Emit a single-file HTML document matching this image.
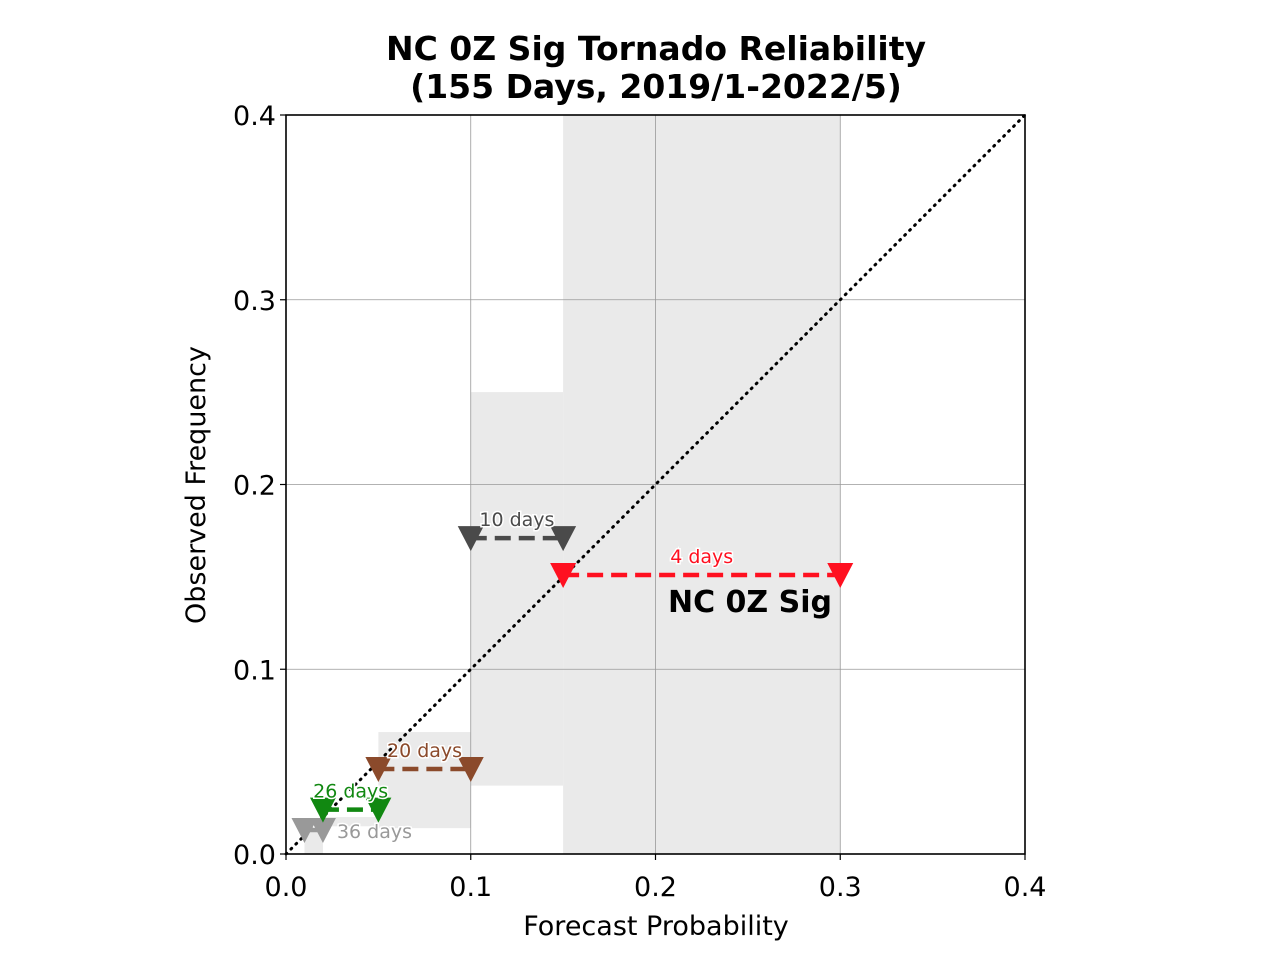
<!DOCTYPE html>
<html><head><meta charset="utf-8"><style>
body{margin:0;background:#fff;}
svg text{font-family:"DejaVu Sans","Liberation Sans",sans-serif;}
</style></head><body>
<svg width="1280" height="960" xmlns="http://www.w3.org/2000/svg">
<text x="656" y="60" font-size="33" font-weight="bold" text-anchor="middle">NC 0Z Sig Tornado Reliability</text>
<text x="656" y="98" font-size="33" font-weight="bold" text-anchor="middle">(155 Days, 2019/1-2022/5)</text>
<g id="plot"></g>
<text x="656" y="935" font-size="27" text-anchor="middle">Forecast Probability</text>
<text transform="translate(205,485) rotate(-90)" font-size="27" text-anchor="middle">Observed Frequency</text>
</svg>
<script>
const binLo=[0.01,0.02,0.05,0.10,0.15];
const binHi=[0.02,0.05,0.10,0.15,0.30];
const obsFreq=[0.013,0.024,0.046,0.171,0.151];
const ciLo=[0.0,0.015,0.014,0.037,0.0];
const ciHi=[0.013,0.020,0.066,0.25,0.4];
const dayCounts=["36 days","26 days","20 days","10 days","4 days"];
const colors=["#999999","#118811","#8b4a2b","#4a4a4a","#ff1020"];
const ticks=[0,0.1,0.2,0.3,0.4];
const tickLabels=["0.0","0.1","0.2","0.3","0.4"];

const X0=286,X1=1025,Y0=854,Y1=115;
const sx=v=>X0+(v/0.4)*(X1-X0), sy=v=>Y0-(v/0.4)*(Y0-Y1);
const NS="http://www.w3.org/2000/svg", g=document.getElementById('plot');
function mk(t,a,p){const e=document.createElementNS(NS,t);for(const k in a)e.setAttribute(k,a[k]);(p||g).appendChild(e);return e;}
for(let i=0;i<binLo.length;i++){
 const r=mk('rect',{x:sx(binLo[i]),y:sy(ciHi[i]),width:sx(binHi[i])-sx(binLo[i]),height:Math.max(0,sy(ciLo[i])-sy(ciHi[i])),fill:"#eaeaea"});
 
 
}
ticks.forEach((t,i)=>{
 if(i>0&&i<ticks.length-1){
  const a=mk('line',{x1:sx(t),x2:sx(t),y1:Y0,y2:Y1,stroke:"#999",'stroke-width':0.8});
  
  
  const b=mk('line',{x1:X0,x2:X1,y1:sy(t),y2:sy(t),stroke:"#999",'stroke-width':0.8});
  
  
 }
 const tx=mk('text',{x:sx(t),y:Y0+42,'font-size':27,'text-anchor':'middle'});tx.textContent=tickLabels[i];
 
 
 const ty=mk('text',{x:X0-10,y:sy(t)+10,'font-size':27,'text-anchor':'end'});ty.textContent=tickLabels[i];
 
 
 mk('line',{x1:sx(t),x2:sx(t),y1:Y0,y2:Y0+6,stroke:"#000",'stroke-width':1.2});
 mk('line',{x1:X0-6,x2:X0,y1:sy(t),y2:sy(t),stroke:"#000",'stroke-width':1.2});
});
const d=mk('line',{x1:sx(0),y1:sy(0),x2:sx(0.4),y2:sy(0.4),stroke:"#000",'stroke-width':3,'stroke-dasharray':'1 6','stroke-linecap':'round'});


for(let i=0;i<binLo.length;i++){
 const y=sy(obsFreq[i]),xa=sx(binLo[i]),xb=sx(binHi[i]),c=colors[i];
 const ln=mk('line',{x1:xa,x2:xb,y1:y,y2:y,stroke:c,'stroke-width':4.5,'stroke-dasharray':'16 8'});
 
 
 [xa,xb].forEach(x=>{
  const m=mk('path',{d:`M${x-13},${y-12} L${x+13},${y-12} L${x},${y+13} Z`,fill:c});
  
  
 });
 let lx=(xa+xb)/2,ly=y-12,anc='middle';
 if(i===0){lx=xb+14;ly=y+8;anc='start';}
 const t=mk('text',{x:lx,y:ly,'font-size':19,'text-anchor':anc,fill:c,stroke:'#fff','stroke-width':3,'paint-order':'stroke'});
 t.textContent=dayCounts[i];
 
 
}
const lab=mk('text',{x:750,y:612,'font-size':30,'font-weight':'bold','text-anchor':'middle'});lab.textContent="NC 0Z Sig";


const fr=mk('rect',{x:X0,y:Y1,width:X1-X0,height:Y0-Y1,fill:'none',stroke:'#000','stroke-width':1.6});


</script>
</body></html>
